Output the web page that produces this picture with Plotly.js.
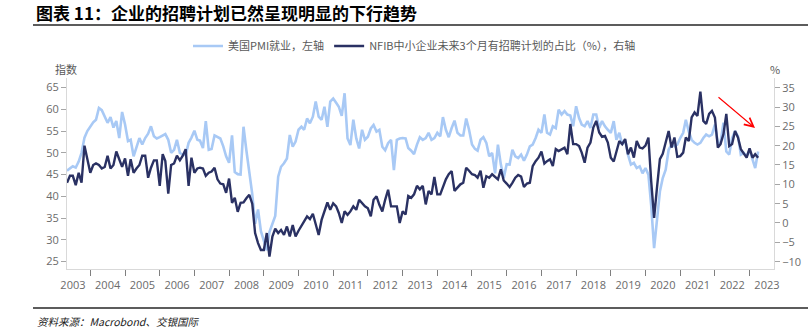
<!DOCTYPE html>
<html>
<head>
<meta charset="utf-8">
<script src="https://cdn.plot.ly/plotly-3.0.1.min.js"></script>
<style>
  html, body { margin: 0; padding: 0; background: #ffffff; }
  #chart { width: 808px; height: 330px; }
</style>
</head>
<body>
<div id="chart"></div>
<script>
// ---- data (monthly, first month May 2003) ----
const startMonth = "2003-05";

const pmiEmployment = [
  45.9, 46.5, 46.9, 46.6, 48.0, 50.0, 53.5, 55.0, 56.0, 57.0, 57.6, 60.3,
  59.8, 58.4, 56.9, 58.2, 55.8, 57.3, 53.4, 59.4, 56.5, 52.7, 53.0, 49.2,
  51.1, 53.4, 51.9, 53.4, 54.4, 56.1, 53.8, 53.3, 53.6, 54.0, 54.3, 53.0,
  50.0, 50.7, 53.0, 50.0, 49.6, 49.5, 52.3, 53.5, 55.1, 53.0, 52.8, 51.1,
  57.3, 50.7, 50.9, 54.0, 53.6, 53.3, 51.5, 49.2, 47.7, 54.0, 45.6, 45.1,
  45.0, 56.0, 50.6, 45.3, 40.5, 33.7, 37.0, 32.0, 29.5, 27.6, 31.8, 33.8,
  35.5, 44.5, 46.8, 47.6, 48.7, 54.1, 51.4, 52.6, 55.3, 56.0, 55.3, 57.9,
  56.8, 58.3, 61.8, 58.3, 57.6, 60.6, 56.0, 61.8, 62.5, 61.5, 60.6, 58.5,
  63.7, 53.3, 51.8, 57.6, 53.3, 51.0, 55.3, 53.0, 53.7, 55.6, 56.4, 54.9,
  55.3, 51.4, 50.6, 52.2, 53.0, 46.0, 53.0, 53.3, 53.4, 53.3, 51.1, 50.5,
  49.7, 51.9, 53.6, 53.0, 53.4, 54.6, 53.0, 53.4, 54.6, 53.8, 58.2, 55.3,
  53.6, 55.7, 57.4, 54.6, 54.0, 54.0, 57.9, 55.3, 51.9, 50.9, 50.5, 53.0,
  53.6, 52.3, 49.2, 50.0, 45.3, 51.9, 47.3, 44.2, 47.4, 47.3, 50.7, 49.2,
  48.8, 49.6, 48.2, 49.6, 51.5, 51.9, 53.4, 55.3, 54.6, 58.8, 54.6, 54.2,
  56.1, 55.7, 59.9, 58.8, 59.6, 58.8, 58.6, 56.1, 60.7, 58.0, 56.5, 56.1,
  57.3, 55.7, 58.8, 58.8, 55.7, 57.3, 56.1, 55.3, 54.6, 57.3, 53.0, 54.6,
  51.9, 53.0, 49.6, 47.3, 47.7, 46.5, 46.9, 45.3, 46.5, 45.0, 38.0, 28.1,
  35.0, 41.1, 44.2, 46.1, 50.7, 51.9, 51.5, 51.9, 53.4, 54.6, 57.6, 54.9,
  53.0, 52.3, 51.9, 52.3, 53.4, 54.2, 53.8, 54.2, 56.5, 52.3, 52.3, 56.9,
  50.3, 49.6, 53.4, 55.0, 53.8, 49.6, 50.0, 49.2, 50.7, 48.4, 46.5, 50.3
];

const nfibHiringPlans = [
  10.4, 12.2, 12.2, 9.8, 13.0, 10.4, 20.0, 16.5, 13.0, 15.0, 15.4, 15.0,
  14.1, 14.5, 17.4, 14.1, 15.0, 18.5, 16.2, 14.5, 16.7, 12.2, 16.5, 13.0,
  14.1, 15.0, 17.4, 17.4, 11.7, 14.3, 16.2, 16.2, 9.6, 17.8, 16.0, 7.6,
  15.0, 15.4, 17.4, 16.2, 17.4, 19.1, 9.6, 16.9, 13.0, 14.1, 14.3, 14.1,
  12.2, 13.0, 13.3, 14.3, 11.3, 10.2, 10.0, 7.8, 11.5, 5.2, 6.5, 2.9,
  5.2, 5.3, 6.4, 7.3, 5.0, -2.6, -5.2, -7.0, -7.0, -2.6, -8.7, -3.5,
  -1.5, -2.6, -1.8, -3.1, -0.9, -3.5, -0.5, -3.5, -2.0, -0.9, 0.4, 1.7,
  1.0, 2.4, -0.5, -3.1, 0.8, 3.0, 5.3, 3.4, 5.1, 4.3, 2.6, 0.0,
  3.0, 2.1, 3.0, 4.3, 3.4, 6.0, 5.1, 4.3, 3.8, 1.7, 6.0, 6.9,
  4.7, 3.0, 6.0, 8.6, 4.3, 4.3, 4.3, 0.0, 3.0, 2.2, 7.0, 6.5,
  7.4, 9.6, 8.7, 9.6, 4.8, 8.3, 7.4, 11.9, 7.4, 7.4, 9.1, 11.3,
  12.6, 13.4, 8.3, 9.1, 10.0, 10.4, 14.3, 13.5, 12.6, 12.4, 11.7, 13.5,
  9.1, 12.1, 11.7, 12.6, 11.9, 11.3, 13.9, 11.0, 10.2, 9.3, 10.4, 11.7,
  12.4, 12.0, 9.3, 10.2, 10.4, 14.7, 16.0, 16.9, 18.5, 15.4, 16.0, 16.5,
  14.7, 19.1, 18.6, 19.1, 19.5, 17.8, 25.6, 20.4, 20.4, 19.9, 18.2, 15.6,
  19.5, 20.8, 24.7, 26.4, 23.4, 22.3, 22.5, 20.8, 16.9, 15.9, 18.6, 21.2,
  20.4, 21.7, 17.8, 19.5, 16.9, 21.2, 19.5, 19.3, 20.0, 22.1, 10.9, 1.3,
  9.1, 16.5, 17.9, 21.2, 23.8, 19.5, 22.1, 17.1, 17.3, 18.2, 22.1, 21.2,
  27.3, 28.6, 27.7, 34.0, 26.4, 25.6, 28.2, 29.0, 27.3, 19.5, 20.4, 23.0,
  28.2, 19.9, 20.4, 23.8, 22.1, 19.1, 17.8, 16.9, 19.3, 16.9, 17.8, 16.9
];

const seriesNames = [
  "美国PMI就业，左轴",
  "NFIB中小企业未来3个月有招聘计划的占比（%），右轴"
];
const chartTitle = "图表 11：企业的招聘计划已然呈现明显的下行趋势";
const sourceText = "资料来源：Macrobond、交银国际";
const leftAxisLabel = "指数";
const rightAxisLabel = "%";

// ---- month labels ----
function monthList(start, n) {
  const parts = start.split("-").map(Number);
  let y = parts[0], m = parts[1];
  const out = [];
  for (let i = 0; i < n; i++) {
    out.push(y + "-" + String(m).padStart(2, "0") + "-01");
    m++; if (m > 12) { m = 1; y++; }
  }
  return out;
}
const months = monthList(startMonth, pmiEmployment.length);

// ---- layout helpers (pixel -> paper) ----
const W = 808, H = 330;
const M = { l: 67, r: 34, t: 78, b: 61 };
const PW = W - M.l - M.r, PH = H - M.t - M.b;
const px = x => (x - M.l) / PW;
const py = y => (H - M.b - y) / PH;

const tickFont = { family: "Open Sans, Noto Sans, sans-serif", size: 11, color: "#6b6b6b" };
const cjkGray = { family: "Noto Sans CJK SC, sans-serif", size: 11, color: "#595959" };

const traces = [
  {
    x: months, y: pmiEmployment, name: seriesNames[0], type: "scatter", mode: "lines",
    line: { color: "#A8C9F5", width: 2.6 }, yaxis: "y", hoverinfo: "skip"
  },
  {
    x: months, y: nfibHiringPlans, name: seriesNames[1], type: "scatter", mode: "lines",
    line: { color: "#2A3163", width: 2.4 }, yaxis: "y2", hoverinfo: "skip"
  }
];

const layout = {
  width: W, height: H,
  margin: M,
  paper_bgcolor: "#ffffff", plot_bgcolor: "#ffffff",
  showlegend: true,
  legend: {
    orientation: "h", x: px(188), y: py(46), xanchor: "left", yanchor: "middle",
    font: cjkGray, bgcolor: "rgba(0,0,0,0)", itemwidth: 30, tracegroupgap: 0
  },
  xaxis: {
    type: "date",
    range: ["2003-05-01", "2023-09-15"],
    tick0: "2003-01-01", dtick: "M12",
    ticklabelmode: "period", tickformat: "%Y",
    ticks: "outside", ticklen: 6, tickcolor: "#7f7f7f", tickwidth: 1,
    showline: true, linecolor: "#d9d9d9", linewidth: 1,
    showgrid: false, zeroline: false,
    tickfont: tickFont, fixedrange: true
  },
  yaxis: {
    range: [23.3, 67.2], tick0: 25, dtick: 5,
    ticks: "outside", ticklen: 5, tickcolor: "#a6a6a6",
    showline: true, linecolor: "#d9d9d9", linewidth: 1,
    showgrid: false, zeroline: false,
    tickfont: tickFont, fixedrange: true
  },
  yaxis2: {
    overlaying: "y", side: "right", anchor: "x",
    range: [-11.9, 37.5], tick0: -10, dtick: 5,
    ticks: "outside", ticklen: 5, tickcolor: "#a6a6a6",
    showline: true, linecolor: "#d9d9d9", linewidth: 1,
    showgrid: false, zeroline: false,
    tickfont: tickFont, fixedrange: true
  },
  shapes: [
    { type: "line", xref: "paper", yref: "paper", x0: px(33), x1: px(808), y0: py(25), y1: py(25),
      line: { color: "#262626", width: 1.5 } },
    { type: "line", xref: "paper", yref: "paper", x0: px(33), x1: px(808), y0: py(308), y1: py(308),
      line: { color: "#262626", width: 1.5 } }
  ],
  annotations: [
    { text: "<b>" + chartTitle + "</b>", xref: "paper", yref: "paper", x: px(34), y: py(13),
      xanchor: "left", yanchor: "middle", showarrow: false,
      font: { family: "Noto Sans CJK SC, sans-serif", size: 17, color: "#000000" } },
    { text: leftAxisLabel, xref: "paper", yref: "paper", x: px(66), y: py(69),
      xanchor: "center", yanchor: "middle", showarrow: false, font: cjkGray },
    { text: rightAxisLabel, xref: "paper", yref: "paper", x: px(775), y: py(69),
      xanchor: "center", yanchor: "middle", showarrow: false, font: cjkGray },
    { text: "<i>" + sourceText + "</i>", xref: "paper", yref: "paper", x: px(35), y: py(321),
      xanchor: "left", yanchor: "middle", showarrow: false,
      font: { family: "Noto Sans CJK SC, Open Sans, sans-serif", size: 10.5, color: "#1a1a1a" } },
    { text: "", xref: "paper", yref: "paper", x: px(755), y: py(128), ax: -38, ay: -32,
      axref: "pixel", ayref: "pixel",
      showarrow: true, arrowhead: 5, arrowsize: 1.6, arrowwidth: 1.1, arrowcolor: "#ff0000" }
  ]
};

Plotly.newPlot("chart", traces, layout, { displayModeBar: false, staticPlot: true });
</script>
</body>
</html>
